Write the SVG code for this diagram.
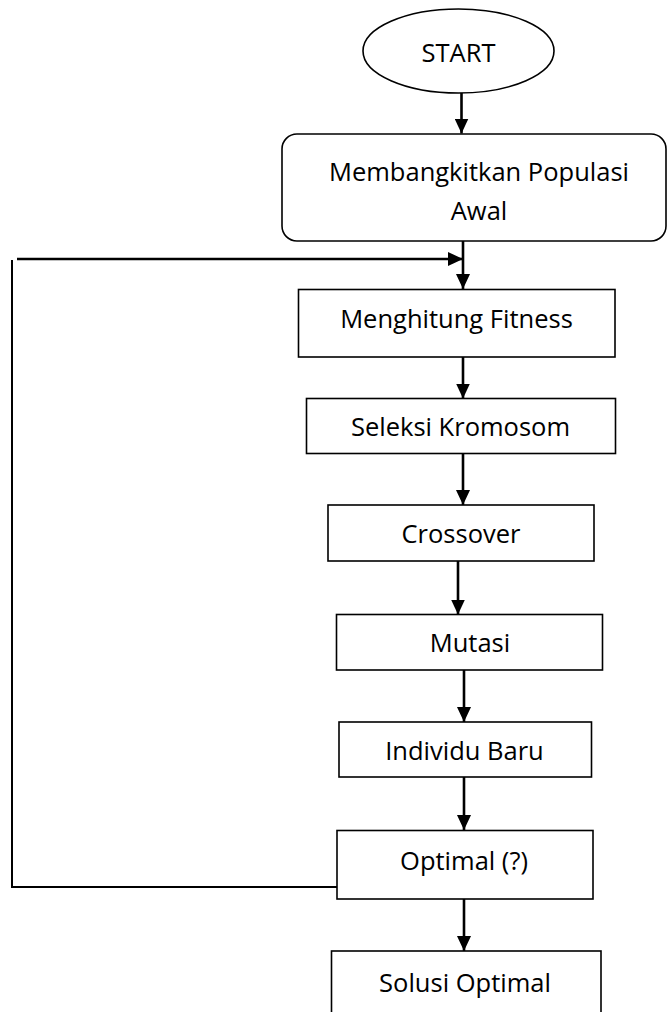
<svg xmlns="http://www.w3.org/2000/svg" width="667" height="1012" viewBox="0 0 667 1012">
<style>
.box{fill:#fff;stroke:#000;stroke-width:1.6}
.lbl{font-family:"Open Sans","Liberation Sans",sans-serif;font-size:25.5px;fill:#000;text-anchor:middle}
.con{fill:none;stroke:#000;stroke-width:2.6}
</style>
<defs>
<marker id="ah" markerUnits="userSpaceOnUse" markerWidth="15" markerHeight="14" viewBox="0 0 15 14" refX="15" refY="7" orient="auto">
<path d="M0,0 L15,7 L0,14 z" fill="#000"/>
</marker>
</defs>
<rect width="667" height="1012" fill="#fff"/>
<g id="connectors">
<line class="con" x1="461.5" y1="93" x2="461.5" y2="133.5" marker-end="url(#ah)"/>
<line class="con" x1="463" y1="241" x2="463" y2="289" marker-end="url(#ah)"/>
<line class="con" x1="17" y1="259" x2="463" y2="259" marker-end="url(#ah)"/>
<line class="con" x1="463" y1="357" x2="463" y2="398.5" marker-end="url(#ah)"/>
<line class="con" x1="463" y1="453" x2="463" y2="505" marker-end="url(#ah)"/>
<line class="con" x1="458" y1="561" x2="458" y2="614.5" marker-end="url(#ah)"/>
<line class="con" x1="464" y1="670" x2="464" y2="722" marker-end="url(#ah)"/>
<line class="con" x1="464" y1="777" x2="464" y2="830" marker-end="url(#ah)"/>
<line class="con" x1="464" y1="899" x2="464" y2="951" marker-end="url(#ah)"/>
<polyline class="con" points="12,260 12,887 337,887" style="stroke-width:2"/>
</g>
<g id="start">
<ellipse class="box" cx="458.5" cy="51" rx="95.5" ry="42"/>
<text class="lbl" x="458.5" y="62">START</text>
</g>
<g id="populasi">
<rect class="box" x="282" y="134" width="384" height="107" rx="15"/>
<text class="lbl" x="479" y="181">Membangkitkan Populasi</text>
<text class="lbl" x="479" y="220">Awal</text>
</g>
<g id="fitness">
<rect class="box" x="298.5" y="289.5" width="316.5" height="67.5"/>
<text class="lbl" x="456.5" y="328">Menghitung Fitness</text>
</g>
<g id="seleksi">
<rect class="box" x="306.5" y="398.5" width="309" height="55"/>
<text class="lbl" x="460.5" y="436">Seleksi Kromosom</text>
</g>
<g id="crossover">
<rect class="box" x="328" y="505" width="266" height="56"/>
<text class="lbl" x="461" y="543">Crossover</text>
</g>
<g id="mutasi">
<rect class="box" x="336.5" y="614.5" width="266" height="55.5"/>
<text class="lbl" x="470" y="652">Mutasi</text>
</g>
<g id="individu">
<rect class="box" x="339" y="722" width="252.5" height="55"/>
<text class="lbl" x="464.5" y="760">Individu Baru</text>
</g>
<g id="optimal">
<rect class="box" x="337" y="830.5" width="256" height="68.5"/>
<text class="lbl" x="464" y="870">Optimal (?)</text>
</g>
<g id="solusi">
<rect class="box" x="331.5" y="951" width="269.5" height="80"/>
<text class="lbl" x="465" y="992">Solusi Optimal</text>
</g>
</svg>
